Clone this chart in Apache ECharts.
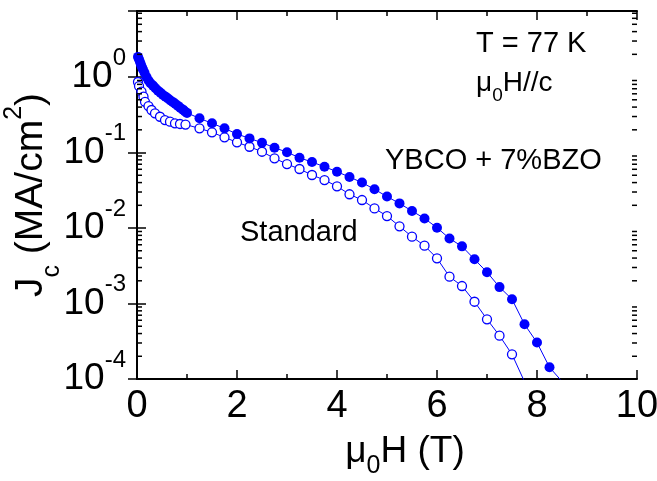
<!DOCTYPE html>
<html>
<head>
<meta charset="utf-8">
<script src="https://cdn.jsdelivr.net/npm/echarts@6/dist/echarts.min.js"></script>
<style>
html,body{margin:0;padding:0;background:#fff}
#main{width:657px;height:481px}
</style>
</head>
<body>
<div id="main"></div>
<script>
// YBCO + 7%BZO  (filled circles)
var bzoField = [0.02,0.04,0.06,0.08,0.10,0.12,0.15,0.19,0.23,0.27,0.32,0.37,0.42,0.47,0.52,0.57,0.62,0.67,0.72,0.77,0.82,0.87,0.92,0.96,1.00,
                1.25,1.50,1.75,2.00,2.25,2.50,2.75,3.00,3.25,3.50,3.75,4.00,4.25,4.50,4.75,5.00,5.25,5.50,5.75,6.00,6.25,6.50,6.75,7.00,7.25,7.50,7.75,8.00,8.25,8.50];
var bzoJc = [1.85,1.72,1.58,1.45,1.35,1.26,1.14,1.00,0.90,0.83,0.77,0.71,0.66,0.62,0.58,0.55,0.52,0.49,0.465,0.44,0.415,0.39,0.37,0.35,0.335,
             0.284,0.244,0.209,0.176,0.154,0.135,0.116,0.101,0.0853,0.0748,0.0648,0.0557,0.0474,0.0400,0.0326,0.0261,0.0212,0.0168,0.0134,0.0101,
             0.00726,0.00572,0.00385,0.00260,0.00165,0.00114,0.00053,0.000304,0.000143,0.0000927];

// Standard (open circles)
var stdField = [0.02,0.04,0.09,0.13,0.16,0.23,0.29,0.36,0.46,0.56,0.66,0.76,0.86,0.97,
                1.25,1.50,1.75,2.00,2.25,2.50,2.75,3.00,3.25,3.50,3.75,4.00,4.25,4.50,4.75,5.00,5.25,5.50,5.75,6.00,6.25,6.50,6.75,7.00,7.25,7.50,7.75];
var stdJc = [0.86,0.76,0.64,0.55,0.47,0.413,0.366,0.331,0.298,0.269,0.256,0.244,0.239,0.235,
             0.209,0.185,0.159,0.1365,0.1193,0.1025,0.0838,0.0704,0.0605,0.0504,0.0432,0.0357,0.0280,0.0235,0.0182,0.0144,0.01053,0.00767,0.00583,
             0.00397,0.002265,0.001705,0.001056,0.000618,0.000375,0.000212,0.0000921];

// axes
var xMin = 0, xMax = 10, xStep = 2;
var yMin = 1e-4, yMax = 7.5;
var yDecades = [-4,-3,-2,-1,0];
var yMinorMult = [2,3,4,5,6,7,8,9];

var F = "'Liberation Sans', Arial, sans-serif";
var BLUE = '#0000ff';

function pairs(xs, ys){
    var out = [];
    for(var i=0;i<xs.length;i++){ out.push([xs[i], ys[i]]); }
    return out;
}

// minor log ticks (2..9 x 10^n)
var minorTicks = [];
for(var d=0; d<yDecades.length; d++){
    for(var k=0;k<yMinorMult.length;k++){
        var v = yMinorMult[k]*Math.pow(10, yDecades[d]);
        if(v < yMax){ minorTicks.push([xMin, v]); }
    }
}

var axisLineStyle = {color:'#000', width:2};

var myChart = echarts.init(document.getElementById('main'), null, {renderer:'canvas'});
var option = {
    animation:false,
    backgroundColor:'#fff',
    grid:{left:137, right:20, top:11, bottom:102, outerBoundsMode:'none', containLabel:false},
    xAxis:[{
        type:'value', min:xMin, max:xMax, interval:xStep, position:'bottom',
        axisLine:{lineStyle:axisLineStyle},
        axisTick:{inside:true, length:9, lineStyle:{color:'#000', width:1.5}},
        minorTick:{show:true, splitNumber:2, length:5, lineStyle:{color:'#000', width:1.5}},
        splitLine:{show:false},
        axisLabel:{margin:9, color:'#000', fontSize:38, fontFamily:F},
        name:'{a|μ}{s|0}{a|H (T)}', nameLocation:'middle', nameGap:54, nameMoveOverlap:false,
        nameTextStyle:{padding:[0,0,0,36], rich:{
            a:{fontSize:37, fontFamily:F, color:'#000', lineHeight:37, verticalAlign:'top'},
            s:{fontSize:25, fontFamily:F, color:'#000', lineHeight:25, padding:[21,0,0,0], verticalAlign:'top'}
        }}
    },{
        type:'value', min:xMin, max:xMax, interval:xStep, position:'top',
        axisLine:{lineStyle:axisLineStyle},
        axisTick:{inside:true, length:9, lineStyle:{color:'#000', width:1.5}},
        minorTick:{show:true, splitNumber:2, length:5, lineStyle:{color:'#000', width:1.5}},
        splitLine:{show:false},
        axisLabel:{show:false}
    }],
    yAxis:[{
        type:'log', logBase:10, min:yMin, max:yMax, position:'left',
        axisLine:{lineStyle:axisLineStyle},
        axisTick:{inside:true, length:9, lineStyle:{color:'#000', width:1.5}},
        splitLine:{show:false},
        axisLabel:{
            margin:11, color:'#000',
            formatter:function(v){
                var e = Math.log(v)/Math.LN10;
                var r = Math.round(e);
                if(Math.abs(e-r) > 1e-6){ return ''; }
                return '{b|10}{s|' + r + '}';
            },
            rich:{
                b:{fontSize:37, fontFamily:F, color:'#000', lineHeight:62, verticalAlign:'middle'},
                s:{fontSize:24, fontFamily:F, color:'#000', lineHeight:24, verticalAlign:'top'}
            }
        },
        name:'{a|J}{s|c}{a| (MA/cm}{p|2}{a|)}', nameLocation:'middle', nameGap:96, nameRotate:90, nameMoveOverlap:false,
        nameTextStyle:{rich:{
            a:{fontSize:39, fontFamily:F, color:'#000', lineHeight:39, padding:[10,0,0,0], verticalAlign:'top'},
            s:{fontSize:25, fontFamily:F, color:'#000', lineHeight:25, padding:[38,0,0,0], verticalAlign:'top'},
            p:{fontSize:25, fontFamily:F, color:'#000', lineHeight:25, verticalAlign:'top'}
        }}
    },{
        type:'log', logBase:10, min:yMin, max:yMax, position:'right',
        axisLine:{lineStyle:axisLineStyle},
        axisTick:{inside:true, length:9, lineStyle:{color:'#000', width:1.5}},
        splitLine:{show:false},
        axisLabel:{show:false}
    }],
    graphic:[
        {type:'text', left:476, top:29, style:{text:'T = 77 K', font:'29px ' + F, fill:'#000'}},
        {type:'text', left:476, top:69, style:{
            text:'{a|μ}{s|0}{a|H//c}',
            rich:{
                a:{fontSize:28, fontFamily:F, fill:'#000', lineHeight:28, verticalAlign:'top'},
                s:{fontSize:19, fontFamily:F, fill:'#000', lineHeight:19, padding:[17,0,0,0], verticalAlign:'top'}
            }
        }},
        {type:'text', left:385, top:146, style:{text:'YBCO + 7%BZO', font:'29px ' + F, fill:'#000'}},
        {type:'text', left:240, top:218, style:{text:'Standard', font:'29px ' + F, fill:'#000'}}
    ],
    series:[{
        name:'minor', type:'custom', xAxisIndex:0, yAxisIndex:0, silent:true, z:5,
        data:minorTicks,
        renderItem:function(params, api){
            var v = api.value(1);
            var l = api.coord([xMin, v]);
            var r = api.coord([xMax, v]);
            return {type:'group', children:[
                {type:'line', shape:{x1:l[0], y1:l[1], x2:l[0]+5, y2:l[1]}, style:{stroke:'#000', lineWidth:1.5}},
                {type:'line', shape:{x1:r[0], y1:r[1], x2:r[0]-5, y2:r[1]}, style:{stroke:'#000', lineWidth:1.5}}
            ]};
        }
    },{
        name:'Standard', type:'line', data:pairs(stdField, stdJc),
        symbol:'circle', symbolSize:9, showSymbol:true, showAllSymbol:true,
        itemStyle:{color:'#fff', borderColor:BLUE, borderWidth:1.3},
        lineStyle:{color:BLUE, width:1}, z:2
    },{
        name:'YBCO + 7%BZO', type:'line', data:pairs(bzoField, bzoJc),
        symbol:'circle', symbolSize:10, showSymbol:true, showAllSymbol:true,
        itemStyle:{color:BLUE},
        lineStyle:{color:BLUE, width:1}, z:3
    }]
};
myChart.setOption(option);
</script>
</body>
</html>
